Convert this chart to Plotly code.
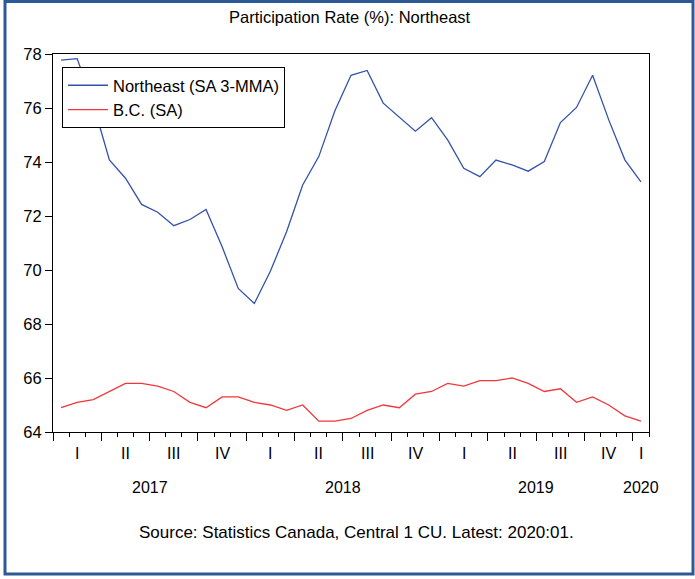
import plotly.graph_objects as go

# Monthly observations, 2017:01 - 2020:01
months = [f"{y}-{m:02d}" for y in (2017, 2018, 2019) for m in range(1, 13)] + ["2020-01"]

northeast_sa_3mma = [
    77.77, 77.83, 76.15, 74.08, 73.40, 72.43, 72.14, 71.64, 71.87, 72.24, 70.86, 69.32,
    68.76, 69.96, 71.42, 73.15, 74.20, 75.90, 77.21, 77.39, 76.18, 75.66, 75.14, 75.64,
    74.82, 73.77, 73.46, 74.07, 73.89, 73.66, 74.02, 75.46, 76.02, 77.21, 75.56, 74.08,
    73.26,
]
bc_sa = [
    64.9, 65.1, 65.2, 65.5, 65.8, 65.8, 65.7, 65.5, 65.1, 64.9, 65.3, 65.3,
    65.1, 65.0, 64.8, 65.0, 64.4, 64.4, 64.5, 64.8, 65.0, 64.9, 65.4, 65.5,
    65.8, 65.7, 65.9, 65.9, 66.0, 65.8, 65.5, 65.6, 65.1, 65.3, 65.0, 64.6,
    64.4,
]

quarter_labels = ["I", "II", "III", "IV"] * 3 + ["I"]
year_labels = ["2017", "2018", "2019", "2020"]
y_ticks = [64, 66, 68, 70, 72, 74, 76, 78]

FONT = "Arial, Liberation Sans, sans-serif"
BLUE = "#3452A8"
RED = "#F2363C"
FRAME = "#2C5A96"

W, H = 695, 579
L, R, T, B = 53, 46, 54, 147
PW, PH = W - L - R, H - T - B

# month index positions on the axis
xpos = list(range(len(months)))

fig = go.Figure()
fig.add_trace(go.Scatter(x=xpos, y=northeast_sa_3mma, mode="lines",
                         name="Northeast (SA 3-MMA)",
                         line=dict(color=BLUE, width=1.3)))
fig.add_trace(go.Scatter(x=xpos, y=bc_sa, mode="lines", name="B.C. (SA)",
                         line=dict(color=RED, width=1.3)))

n = len(months)
quarter_bounds = [q * 3 - 0.5 for q in range(n // 3 + 1)]
quarter_centers = [q * 3 + 1 for q in range(12)] + [36]
year_centers = [5.5, 17.5, 29.5, 36]


def py(pixel_y):
    return (H - B - pixel_y) / PH


def px(pixel_x):
    return (pixel_x - L) / PW


annotations = []
for xc, lab in zip(quarter_centers, quarter_labels):
    annotations.append(dict(x=xc, y=py(453), xref="x", yref="paper", text=lab,
                            showarrow=False, yanchor="middle",
                            font=dict(family=FONT, size=16, color="black")))
for xc, lab in zip(year_centers, year_labels):
    annotations.append(dict(x=xc, y=py(487), xref="x", yref="paper", text=lab,
                            showarrow=False, yanchor="middle",
                            font=dict(family=FONT, size=16, color="black")))
annotations.append(dict(x=px(356), y=py(532), xref="paper", yref="paper",
                        text="Source: Statistics Canada, Central 1 CU. Latest: 2020:01.",
                        showarrow=False, yanchor="middle",
                        font=dict(family=FONT, size=17, color="black")))
annotations.append(dict(x=px(350), y=py(17), xref="paper", yref="paper",
                        text="Participation Rate (%): Northeast",
                        showarrow=False, yanchor="middle",
                        font=dict(family=FONT, size=16.5, color="black")))

fig.update_layout(
    width=W, height=H,
    margin=dict(l=L, r=R, t=T, b=B, pad=0),
    paper_bgcolor="white", plot_bgcolor="white",
    showlegend=True,
    legend=dict(x=px(62), y=py(67), xanchor="left", yanchor="top",
                bgcolor="white", bordercolor="black", borderwidth=1,
                font=dict(family=FONT, size=16.5, color="black"),
                tracegroupgap=0, itemwidth=40),
    annotations=annotations,
    shapes=[dict(type="rect", xref="paper", yref="paper",
                 x0=px(5), x1=px(693), y0=py(574), y1=py(1.5),
                 line=dict(color=FRAME, width=3), fillcolor="rgba(0,0,0,0)",
                 layer="below")],
    xaxis=dict(range=[-0.5, n - 0.5], showgrid=False, zeroline=False,
               showline=True, linecolor="black", linewidth=1, mirror=True,
               tickmode="array", tickvals=quarter_bounds, ticks="outside",
               ticklen=8, tickcolor="black", tickwidth=1, showticklabels=False,
               minor=dict(tick0=-0.5, dtick=1, ticks="outside", ticklen=4,
                          tickcolor="black", tickwidth=1, showgrid=False)),
    yaxis=dict(range=[64, 78], tickvals=y_ticks, showgrid=False, zeroline=False,
               showline=True, linecolor="black", linewidth=1, mirror=True,
               ticks="outside", ticklen=7, tickcolor="black",
               tickfont=dict(family=FONT, size=16.5, color="black")),
)

fig.write_html("out.html")
